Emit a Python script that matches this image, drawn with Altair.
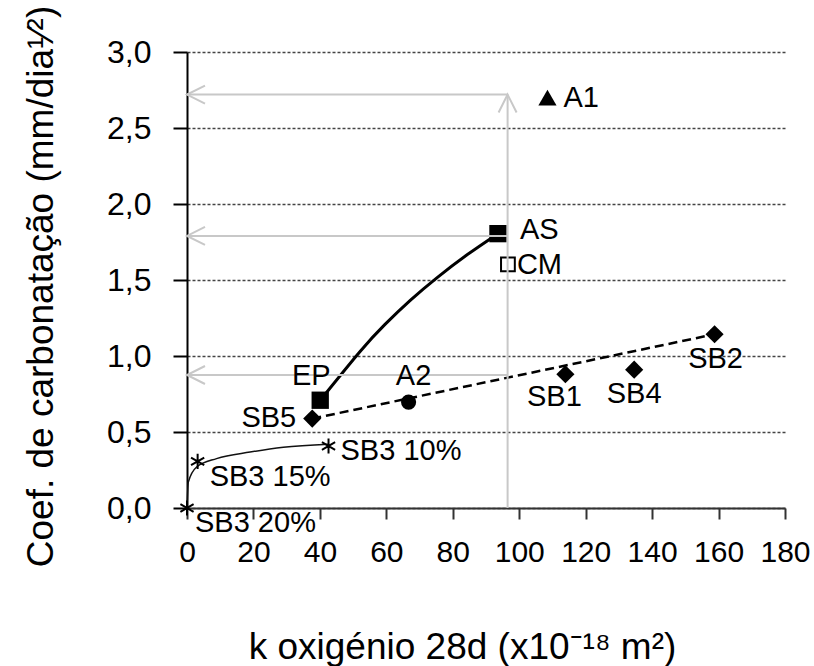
import altair as alt
import pandas as pd

# ---- data ----
nomes = ["A1", "AS", "CM", "EP", "A2", "SB5", "SB1", "SB4", "SB2",
         "SB3 10%", "SB3 15%", "SB3 20%"]
k_oxigenio = [108.5, 93.6, 96.6, 40.1, 66.7, 37.7, 113.9, 134.6, 158.8,
              42.6, 3.2, 0.0]
coef_carb = [2.70, 1.805, 1.603, 0.709, 0.697, 0.588, 0.88, 0.91, 1.143,
             0.408, 0.307, 0.0]

curva_as_k = [40.1, 52.1, 59.6, 67.2, 75.3, 84.3, 93.6]
curva_as_c = [0.709, 1.03, 1.208, 1.366, 1.516, 1.666, 1.805]

# thin curve through the SB3 points
curva_sb3_k = [0.0, 0.4, 2.9, 8.9, 19.0, 29.0, 42.6]
curva_sb3_c = [0.0, 0.17, 0.27, 0.325, 0.368, 0.40, 0.42]

# dashed trend line SB5 -> SB2
tend_k = [37.7, 158.8]
tend_c = [0.588, 1.143]

# grey reading arrows
seta_k = 96.5
seta_c = [2.72, 1.79, 0.875]

x_ticks = list(range(0, 181, 20))
y_ticks = [0.0, 0.5, 1.0, 1.5, 2.0, 2.5, 3.0]

# ---- frames ----
pts = pd.DataFrame({"nome": nomes, "k": k_oxigenio, "c": coef_carb})
df_as = pd.DataFrame({"k": curva_as_k, "c": curva_as_c})
df_sb3 = pd.DataFrame({"k": curva_sb3_k, "c": curva_sb3_c})
df_tend = pd.DataFrame({"k": tend_k, "c": tend_c})
df_h = pd.DataFrame({"k": [0.0] * len(seta_c), "k2": [seta_k] * len(seta_c),
                     "c": seta_c, "c2": seta_c})
df_v = pd.DataFrame({"k": [seta_k], "k2": [seta_k], "c": [0.0], "c2": [max(seta_c)]})
df_tip_up = pd.DataFrame({"k": [seta_k], "c": [max(seta_c)]})

SANS = "Liberation Sans, Arial, sans-serif"

x_enc = alt.X(
    "k:Q",
    scale=alt.Scale(domain=[0, 180], nice=False, zero=False),
    axis=alt.Axis(
        values=x_ticks, grid=False, labelFont=SANS, labelFontSize=30,
        labelColor="black", labelPadding=18, labelFlush=False,
        tickSize=11, tickWidth=2, tickColor="#333", domainColor="#333",
        domainWidth=2,
        title="k oxigénio 28d (x10⁻¹⁸ m²)", titleFont=SANS, titleFontSize=37,
        titleFontWeight="normal", titleColor="black", titleX=275, titleY=150,
        titleAlign="center", titleBaseline="alphabetic",
    ),
)
y_enc = alt.Y(
    "c:Q",
    scale=alt.Scale(domain=[0, 3], nice=False),
    axis=alt.Axis(
        values=y_ticks, labelExpr="replace(format(datum.value, '.1f'), '.', ',')",
        labelFont=SANS, labelFontSize=32, labelColor="black", labelPadding=22,
        labelFlush=False, tickSize=14, tickWidth=2, tickColor="black",
        domainColor="black", domainWidth=2,
        grid=True, gridColor="#444", gridDash=[3, 2], gridWidth=1.5,
        title="Coef. de carbonatação (mm/dia¹⁄²)", titleFont=SANS,
        titleFontSize=37, titleFontWeight="normal", titleColor="black",
        titleAngle=270, titleX=-135, titleY=234, titleAlign="center",
        titleBaseline="alphabetic",
    ),
)

layers = []

# curves / trend line
layers.append(alt.Chart(df_tend).mark_line(color="black", strokeWidth=2.5,
                                            strokeDash=[9, 5]).encode(x=x_enc, y=y_enc))
layers.append(alt.Chart(df_as).mark_line(color="black", strokeWidth=3,
                                          interpolate="natural").encode(x=x_enc, y=y_enc))
layers.append(alt.Chart(df_sb3).mark_line(color="#111", strokeWidth=1.5,
                                           interpolate="monotone").encode(x=x_enc, y=y_enc))

# markers
def sel(group):
    return alt.FieldOneOfPredicate(field="nome", oneOf=group)

marks = [
    (["SB5", "SB1", "SB4", "SB2"], dict(shape="diamond", size=330, filled=True, color="black", opacity=1)),
    (["A1"], dict(shape="triangle-up", size=330, filled=True, color="black", opacity=1)),
    (["AS", "EP"], dict(shape="square", size=300, filled=True, color="black", opacity=1)),
    (["A2"], dict(shape="circle", size=230, filled=True, color="black", opacity=1)),
    (["CM"], dict(shape="square", size=190, filled=True, fill="white", stroke="black",
                  strokeWidth=2, opacity=1)),
    (["SB3 10%", "SB3 15%", "SB3 20%"],
     dict(shape="M0,-1L0,1M-0.87,-0.5L0.87,0.5M-0.87,0.5L0.87,-0.5", size=230,
          filled=False, stroke="black", strokeWidth=2, opacity=1)),
]
for group, style in marks:
    layers.append(alt.Chart(pts).mark_point(**style).encode(x=x_enc, y=y_enc)
                  .transform_filter(sel(group)))

# grey arrows (drawn over the markers, as in the reference)
GREY = "#c8c8c8"
layers.append(alt.Chart(df_h).mark_rule(color=GREY, strokeWidth=2).encode(
    x=x_enc, x2="k2:Q", y=y_enc, y2="c2:Q"))
layers.append(alt.Chart(df_v).mark_rule(color=GREY, strokeWidth=2).encode(
    x=x_enc, x2="k2:Q", y=y_enc, y2="c2:Q"))
layers.append(alt.Chart(df_h).mark_point(shape="M2,-1L0,0L2,1", size=324, filled=False,
                                         stroke=GREY, strokeWidth=2, opacity=1)
              .encode(x=x_enc, y=y_enc))
layers.append(alt.Chart(df_tip_up).mark_point(shape="M-1,2L0,0L1,2", size=324, filled=False,
                                              stroke=GREY, strokeWidth=2, opacity=1)
              .encode(x=x_enc, y=y_enc))

# point labels
label_style = {
    "A1": ("left", 16, 0),
    "AS": ("left", 22, -4),
    "CM": ("left", 9, 1),
    "EP": ("center", -9, -24),
    "A2": ("center", 5, -26),
    "SB5": ("right", -16, -1),
    "SB1": ("center", -11, 23),
    "SB4": ("center", 0, 24),
    "SB2": ("center", 1, 25),
    "SB3 10%": ("left", 12, 5),
    "SB3 15%": ("left", 12, 16),
    "SB3 20%": ("left", 8, 15),
}
for nome, (al, dx, dy) in label_style.items():
    layers.append(
        alt.Chart(pts).mark_text(align=al, baseline="middle", dx=dx, dy=dy,
                                 font=SANS, fontSize=29, color="black")
        .encode(x=x_enc, y=y_enc, text="nome:N")
        .transform_filter(alt.FieldEqualPredicate(field="nome", equal=nome))
    )

chart = alt.layer(*layers).properties(
    width=598, height=456, autosize="none",
    padding={"left": 187, "top": 52, "right": 29, "bottom": 158},
    background="white",
).configure_view(stroke=None)

chart.save("out.html", embed_options={"renderer": "svg", "actions": False})
